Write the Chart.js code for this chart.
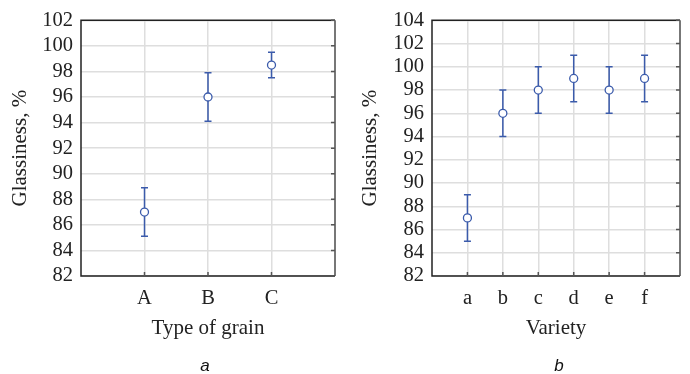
<!DOCTYPE html>
<html>
<head>
<meta charset="utf-8">
<script src="https://cdn.jsdelivr.net/npm/chart.js@4"></script>
<style>
  body { margin: 0; background: #fff; }
  .panel { position: absolute; top: 0; width: 345px; height: 374px; }
</style>
</head>
<body>
<div class="panel" style="left:0"><canvas id="chartA" width="345" height="374"></canvas></div>
<div class="panel" style="left:345px"><canvas id="chartB" width="345" height="374"></canvas></div>
<script>
// panel a: type of grain
const grainTypes = ['A', 'B', 'C'];
const grainMean = [87, 96, 98.5];
const grainLow = [85.1, 94.1, 97.5];
const grainHigh = [88.9, 97.9, 99.5];

// panel b: variety
const varieties = ['a', 'b', 'c', 'd', 'e', 'f'];
const varietyMean = [87, 96, 98, 99, 98, 99];
const varietyLow = [85, 94, 96, 97, 96, 97];
const varietyHigh = [89, 98, 100, 101, 100, 101];

const blue = '#3b5bab';
const gridColor = '#dedede';
const textColor = '#222';
const serif = "'Liberation Serif', 'Times New Roman', serif";

// error bars drawn under the points
const errorBars = {
  id: 'errorBars',
  beforeDatasetsDraw(chart, args, opts) {
    const { ctx, scales: { x, y } } = chart;
    ctx.save();
    ctx.strokeStyle = blue;
    ctx.lineWidth = 1.5;
    opts.low.forEach((lo, i) => {
      const px = x.getPixelForValue(i + 1);
      const y1 = y.getPixelForValue(lo);
      const y2 = y.getPixelForValue(opts.high[i]);
      ctx.beginPath();
      ctx.moveTo(px, y1); ctx.lineTo(px, y2);
      ctx.moveTo(px - 3.5, y1); ctx.lineTo(px + 3.5, y1);
      ctx.moveTo(px - 3.5, y2); ctx.lineTo(px + 3.5, y2);
      ctx.stroke();
    });
    ctx.restore();
  }
};

// plot frame with small inward ticks, plus panel caption
const frame = {
  id: 'frame',
  afterDraw(chart, args, opts) {
    const { ctx, chartArea: a, scales: { x, y } } = chart;
    ctx.save();
    ctx.lineWidth = 2;
    ctx.strokeStyle = '#777';
    ctx.beginPath();
    ctx.moveTo(a.right, a.top); ctx.lineTo(a.right, a.bottom);
    ctx.stroke();
    ctx.lineWidth = 1.5;
    ctx.strokeStyle = '#222';
    ctx.beginPath();
    ctx.moveTo(a.right, a.top); ctx.lineTo(a.left, a.top);
    ctx.lineTo(a.left, a.bottom); ctx.lineTo(a.right, a.bottom);
    ctx.stroke();
    ctx.strokeStyle = '#555';
    ctx.beginPath();
    x.ticks.forEach(t => {
      if (t.value < 1 || t.value > opts.n) return;
      const px = x.getPixelForValue(t.value);
      ctx.moveTo(px, a.bottom); ctx.lineTo(px, a.bottom - 4);
    });
    y.ticks.forEach(t => {
      const py = y.getPixelForValue(t.value);
      ctx.moveTo(a.right, py); ctx.lineTo(a.right - 4, py);
    });
    ctx.stroke();
    ctx.fillStyle = '#111';
    ctx.font = "italic 17px 'Liberation Sans', Arial, sans-serif";
    ctx.textAlign = 'center';
    ctx.textBaseline = 'middle';
    ctx.fillText(opts.caption, opts.captionX, 366);
    ctx.restore();
  }
};

function makeChart(id, cats, mean, low, high, yMin, yMax, xTitle, caption, captionX, yWidth, rightPad, yTitlePad) {
  const n = cats.length;
  return new Chart(document.getElementById(id), {
    type: 'scatter',
    data: {
      datasets: [{
        data: mean.map((v, i) => ({ x: i + 1, y: v })),
        pointStyle: 'circle',
        pointRadius: 4,
        pointBorderWidth: 1.3,
        pointBorderColor: blue,
        pointBackgroundColor: '#fff',
        showLine: false
      }]
    },
    options: {
      responsive: false,
      animation: false,
      layout: { padding: { left: 0, top: 19, right: rightPad, bottom: 0 } },
      plugins: {
        legend: { display: false },
        tooltip: { enabled: false },
        errorBars: { low: low, high: high },
        frame: { n: n, caption: caption, captionX: captionX }
      },
      scales: {
        x: {
          type: 'linear',
          min: 0,
          max: n + 1,
          afterFit(s) { s.height = 98; },
          border: { display: false },
          grid: {
            drawTicks: false,
            lineWidth: 1.5,
            color: c => (c.tick && c.tick.value >= 1 && c.tick.value <= n) ? gridColor : 'rgba(0,0,0,0)'
          },
          ticks: {
            stepSize: 1,
            autoSkip: false,
            maxRotation: 0,
            padding: 10,
            color: textColor,
            font: { family: serif, size: 20.5 },
            callback: v => cats[v - 1] || ''
          },
          title: {
            display: true,
            text: xTitle,
            color: textColor,
            font: { family: serif, size: 21 },
            padding: { top: 0, bottom: 33 }
          }
        },
        y: {
          min: yMin,
          max: yMax,
          afterFit(s) { s.width = yWidth; },
          border: { display: false },
          grid: { drawTicks: false, lineWidth: 1.5, color: gridColor },
          ticks: {
            stepSize: 2,
            autoSkip: false,
            padding: 8,
            color: textColor,
            font: { family: serif, size: 20.5 }
          },
          title: {
            display: true,
            text: 'Glassiness, %',
            color: textColor,
            font: { family: serif, size: 21 },
            padding: { top: yTitlePad, bottom: 0 }
          }
        }
      }
    },
    plugins: [errorBars, frame]
  });
}

makeChart('chartA', grainTypes, grainMean, grainLow, grainHigh, 82, 102,
  'Type of grain', 'a', 205, 81, 8, 8);
makeChart('chartB', varieties, varietyMean, varietyLow, varietyHigh, 82, 104,
  'Variety', 'b', 214, 87, 2, 13);
</script>
</body>
</html>
